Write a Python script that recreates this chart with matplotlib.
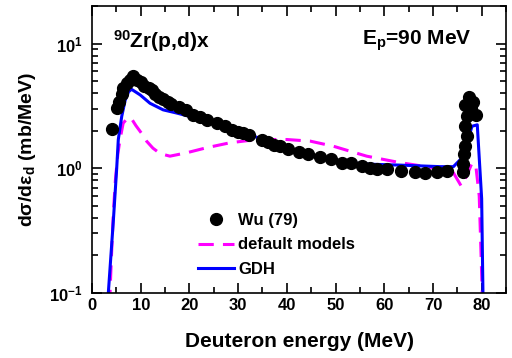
import numpy as np
import matplotlib.pyplot as plt
from matplotlib.ticker import FixedLocator, LogLocator, NullFormatter, MultipleLocator

plt.rcParams['font.family'] = ['Liberation Sans', 'DejaVu Sans']
plt.rcParams['font.weight'] = 'bold'
plt.rcParams['mathtext.fontset'] = 'custom'
plt.rcParams['mathtext.rm'] = 'Liberation Sans:bold'
plt.rcParams['mathtext.it'] = 'Liberation Sans:bold'
plt.rcParams['mathtext.bf'] = 'Liberation Sans:bold'
plt.rcParams['mathtext.default'] = 'rm'

# Wu (79) experimental points
wu_e = [4.2, 5.1, 5.6, 6.1, 6.4, 7.1, 7.7, 8.4, 9.3, 10.1, 10.7, 11.6, 12.3, 12.9,
        13.8, 14.6, 15.5, 16.2, 17.9, 19.4, 20.8, 22.2, 23.7, 25.6, 27.3, 28.7,
        30.0, 31.1, 32.3, 34.8, 36.2, 37.4, 38.5, 40.3, 42.6, 44.4, 46.8, 49.0,
        51.3, 53.2, 55.4, 57.1, 58.6, 60.6, 63.4, 66.3, 68.4, 70.8, 72.8, 76.1,
        76.2, 76.4, 76.6, 76.9, 76.6, 76.9, 76.6, 77.5, 77.8, 78.2, 78.8]
wu_xs = [2.07, 3.03, 3.42, 3.92, 4.37, 4.79, 5.08, 5.47, 5.08, 4.93, 4.56, 4.37, 4.24, 3.94,
         3.75, 3.57, 3.42, 3.26, 3.12, 2.94, 2.68, 2.57, 2.45, 2.30, 2.17, 2.04,
         1.94, 1.90, 1.84, 1.70, 1.62, 1.55, 1.50, 1.42, 1.35, 1.31, 1.24, 1.18,
         1.11, 1.10, 1.04, 1.01, 0.98, 0.98, 0.95, 0.94, 0.92, 0.94, 0.95, 0.94,
         1.08, 1.29, 1.50, 1.80, 2.17, 2.60, 3.22, 3.75, 3.03, 3.42, 2.68]

# default models (dashed magenta)
def_e = [3.6, 4.0, 4.4, 4.8, 5.3, 5.75, 6.4, 7.4, 8.1, 9.0, 10.2, 11.2, 12.5, 14.0,
         16.0, 19.4, 23.5, 28.3, 33.8, 40.0, 44.8, 49.6, 56.4, 63.2, 70.0, 74.2,
         75.8, 77.0, 78.0, 78.8, 79.5, 80.2]
def_xs = [0.08, 0.2, 0.45, 0.8, 1.3, 1.7, 2.3, 2.55, 2.5, 2.2, 1.9, 1.65, 1.45, 1.31,
          1.25, 1.33, 1.46, 1.6, 1.7, 1.7, 1.65, 1.5, 1.25, 1.11, 1.01, 0.92,
          0.72, 0.88, 1.1, 1.05, 0.6, 0.08]

# GDH (solid blue)
gdh_e = [3.2, 3.35, 4.4, 5.07, 5.4, 6.1, 6.8, 7.5, 8.1, 9.9, 11.9, 14.6, 17.4, 20.1,
         25.6, 30.4, 35.1, 40.0, 44.0, 49.5, 56.4, 63.2, 71.5, 74.2, 76.3, 78.0,
         79.1, 80.0, 80.3]
gdh_xs = [0.08, 0.1, 0.39, 1.0, 1.7, 2.6, 3.5, 4.1, 4.3, 3.87, 3.32, 2.94, 2.77, 2.60,
          2.30, 1.98, 1.70, 1.45, 1.32, 1.14, 1.08, 1.06, 1.03, 1.03, 1.25, 2.17,
          2.23, 0.57, 0.08]

fig = plt.figure(figsize=(5.12, 3.58), dpi=100)
ax = fig.add_axes([0.1797, 0.1816, 0.8086, 0.8017])

ax.plot(wu_e, wu_xs, 'o', color='black', markersize=8.5, label='Wu (79)', zorder=3)
ax.plot(def_e, def_xs, '--', color='#ff00ff', lw=2.2, dashes=(5, 3), label='default models')
ax.plot(gdh_e, gdh_xs, '-', color='#0000ff', lw=2.2, label='GDH')

ax.set_yscale('log')
ax.set_xlim(0, 85)
ax.set_ylim(0.1, 20)
ax.xaxis.set_major_locator(FixedLocator([0, 10, 20, 30, 40, 50, 60, 70, 80]))
ax.xaxis.set_minor_locator(MultipleLocator(5))
ax.yaxis.set_major_locator(FixedLocator([0.1, 1, 10]))
ax.set_yticklabels(['$10^{-1}$', '$10^{0}$', '$10^{1}$'])
ax.yaxis.set_minor_locator(LogLocator(base=10, subs=np.arange(2, 10)))
ax.yaxis.set_minor_formatter(NullFormatter())

ax.tick_params(which='both', direction='in', top=True, right=True, labelsize=12, width=1.2)
ax.tick_params(which='major', length=7)
ax.tick_params(axis='y', which='major', pad=7)
ax.tick_params(which='minor', length=4)
for s in ax.spines.values():
    s.set_linewidth(1.2)

ax.set_xlabel('Deuteron energy (MeV)', fontsize=15, fontweight='bold', labelpad=14)
ax.set_ylabel('d\u03c3/d\u03b5$_d$ (mb/MeV)', fontsize=14, fontweight='bold', labelpad=8)

ax.text(0.051, 0.854, '$^{90}$Zr(p,d)x', transform=ax.transAxes, fontsize=15,
        fontweight='bold', va='baseline')
ax.text(0.652, 0.864, 'E$_p$=90 MeV', transform=ax.transAxes, fontsize=15,
        fontweight='bold', va='baseline')

ax.legend(loc='upper left', bbox_to_anchor=(0.255, 0.278), frameon=False, fontsize=12,
          handlelength=2.2, handletextpad=0.25, labelspacing=0.55, borderpad=0,
          borderaxespad=0)

plt.savefig('out.png', dpi=100)
